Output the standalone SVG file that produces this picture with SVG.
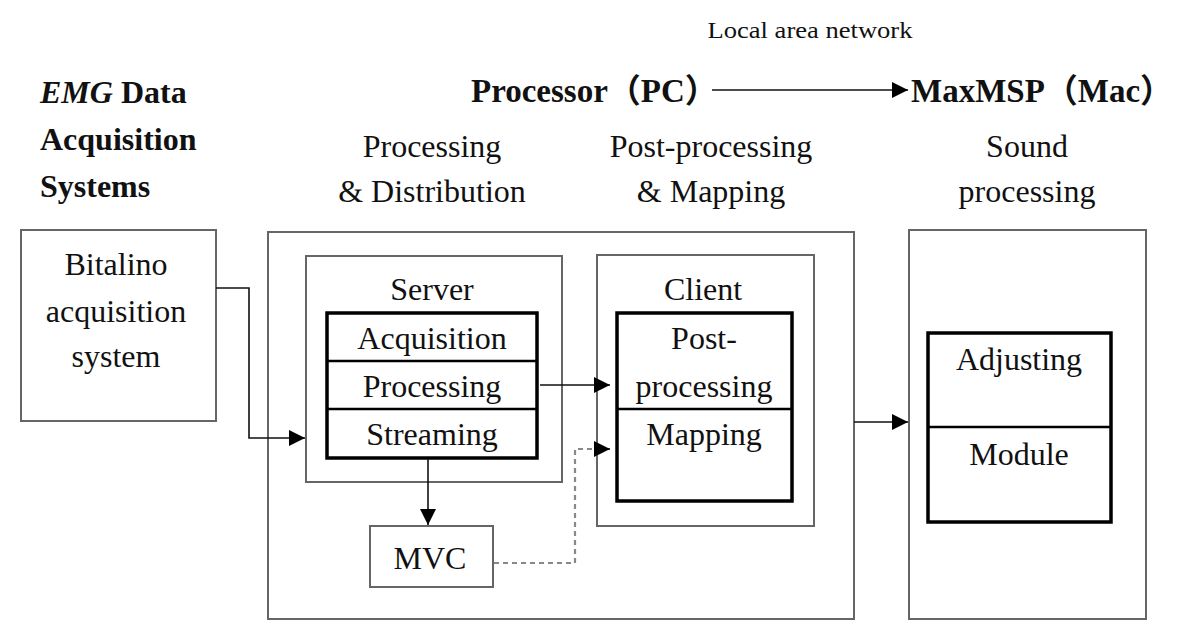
<svg xmlns="http://www.w3.org/2000/svg" width="1200" height="643" viewBox="0 0 1200 643">
<style>
  text { font-family: "Liberation Serif", "Noto Sans CJK SC", serif; fill: #111; }
  .t { font-size: 32px; text-anchor: middle; }
  .h { font-size: 32px; text-anchor: middle; }
  .b { font-weight: bold; font-size: 32px; }
  .bt { font-weight: bold; font-size: 33px; }
  .box { fill: #fff; stroke: #666; stroke-width: 2; }
  .thick { fill: #fff; stroke: #000; stroke-width: 3.5; }
  .div { stroke: #000; stroke-width: 2.5; }
  .conn { fill: none; stroke: #111; stroke-width: 1.6; }
  .dash { fill: none; stroke: #888; stroke-width: 2.2; stroke-dasharray: 5 4; }
</style>
<defs>
  <marker id="arr" markerUnits="userSpaceOnUse" markerWidth="17" markerHeight="16" refX="16" refY="8" orient="auto">
    <path d="M0,0 L16,8 L0,16 Z" fill="#000"/>
  </marker>
</defs>
<rect width="1200" height="643" fill="#fff"/>

<g id="headers">
  <text x="810" y="38" font-size="24" text-anchor="middle" textLength="205" lengthAdjust="spacingAndGlyphs">Local area network</text>
  <text class="b" x="40" y="103"><tspan font-style="italic">EMG</tspan> Data</text>
  <text class="b" x="40" y="150">Acquisition</text>
  <text class="b" x="40" y="197">Systems</text>
  <text class="bt" x="471" y="102">Processor（PC）</text>
  <text class="bt" x="911" y="102">MaxMSP（Mac）</text>
  <text class="h" x="432" y="157">Processing</text>
  <text class="h" x="432" y="202">&amp; Distribution</text>
  <text class="h" x="711" y="157">Post-processing</text>
  <text class="h" x="711" y="202">&amp; Mapping</text>
  <text class="h" x="1027" y="157">Sound</text>
  <text class="h" x="1027" y="202">processing</text>
</g>

<g id="bitalino">
  <rect class="box" x="21" y="230" width="195" height="191"/>
  <text class="t" x="116" y="275">Bitalino</text>
  <text class="t" x="116" y="322">acquisition</text>
  <text class="t" x="116" y="367">system</text>
</g>

<g id="pc">
  <rect class="box" x="268" y="232" width="586" height="387"/>
</g>

<g id="server">
  <rect class="box" x="306" y="256" width="256" height="226"/>
  <text class="t" x="432" y="300">Server</text>
  <rect class="thick" x="327" y="313" width="210" height="145"/>
  <line class="div" x1="327" y1="361" x2="537" y2="361"/>
  <line class="div" x1="327" y1="409" x2="537" y2="409"/>
  <text class="t" x="432" y="349">Acquisition</text>
  <text class="t" x="432" y="397">Processing</text>
  <text class="t" x="432" y="445">Streaming</text>
</g>

<g id="client">
  <rect class="box" x="597" y="255" width="217" height="271"/>
  <text class="t" x="703" y="300">Client</text>
  <rect class="thick" x="617" y="313" width="175" height="188"/>
  <line class="div" x1="617" y1="409" x2="792" y2="409"/>
  <text class="t" x="704" y="349">Post-</text>
  <text class="t" x="704" y="397">processing</text>
  <text class="t" x="704" y="445">Mapping</text>
</g>

<g id="mvc">
  <rect class="box" x="370" y="526" width="123" height="61"/>
  <text class="t" x="430" y="569">MVC</text>
</g>

<g id="sound">
  <rect class="box" x="909" y="230" width="237" height="389"/>
  <rect class="thick" x="928" y="333" width="183" height="189"/>
  <line class="div" x1="928" y1="427" x2="1111" y2="427"/>
  <text class="t" x="1019" y="370">Adjusting</text>
  <text class="t" x="1019" y="465">Module</text>
</g>

<g id="connectors">
  <line class="conn" x1="712" y1="90" x2="908" y2="90" marker-end="url(#arr)"/>
  <polyline class="conn" points="216,288 249,288 249,438 305,438" marker-end="url(#arr)"/>
  <line class="conn" x1="540" y1="385" x2="610" y2="385" marker-end="url(#arr)"/>
  <line class="conn" x1="428" y1="459" x2="428" y2="525" marker-end="url(#arr)"/>
  <polyline class="dash" points="494,563 575,563 575,449 596,449"/>
  <line class="conn" x1="595" y1="449" x2="610" y2="449" marker-end="url(#arr)"/>
  <line class="conn" x1="854" y1="422" x2="908" y2="422" marker-end="url(#arr)"/>
</g>
</svg>
